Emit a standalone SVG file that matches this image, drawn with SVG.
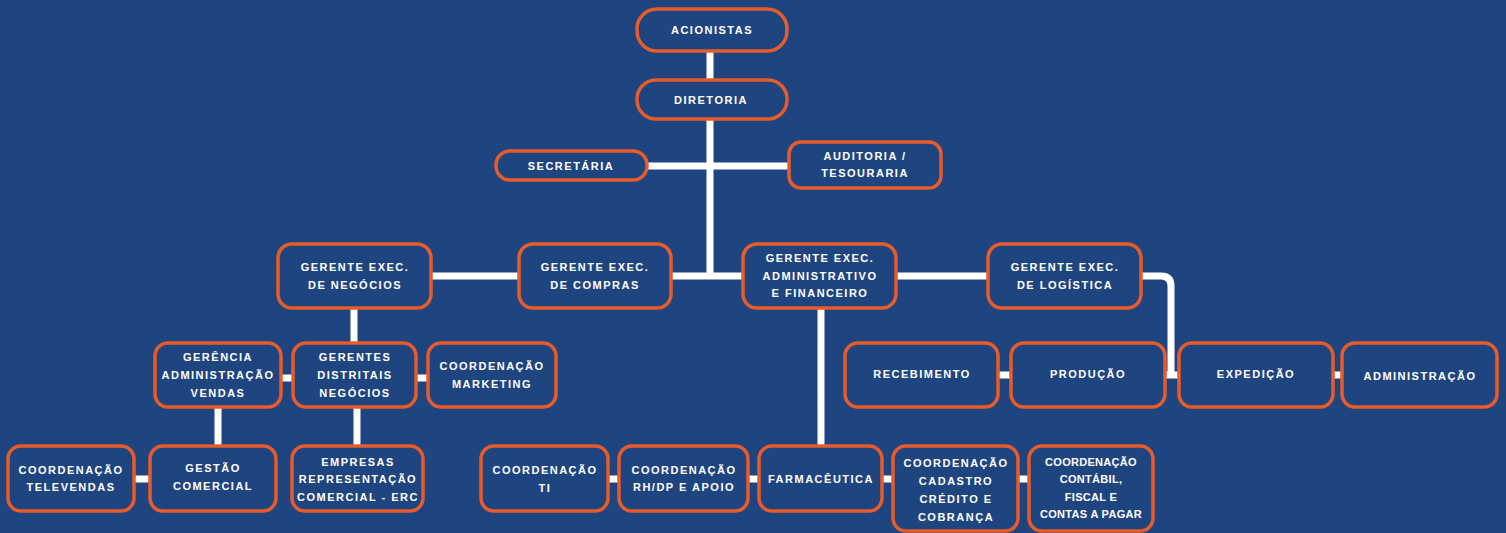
<svg xmlns="http://www.w3.org/2000/svg" width="1506" height="533" viewBox="0 0 1506 533">
<style>
.bg{fill:#1f4580}
.n rect{fill:#1f4580;stroke:#e85b2b;stroke-width:3.5}
.n text{fill:#ffffff;font-family:"Liberation Sans",Arial,sans-serif;font-weight:bold;font-size:11px;letter-spacing:1.5px;text-anchor:middle}
.n text.c{letter-spacing:0.3px}
.e{stroke:#ffffff;stroke-width:7;fill:none}
</style>
<rect class="bg" x="0" y="0" width="1506" height="533"/>
<g id="connectors">
<path class="e" d="M710 51V80"/>
<path class="e" d="M710 119V279"/>
<path class="e" d="M647 166H789"/>
<path class="e" d="M431 276H519"/>
<path class="e" d="M671 276H743"/>
<path class="e" d="M896 276H988"/>
<path class="e" d="M1141 276H1161Q1171 276 1171 286V378"/>
<path class="e" d="M1165 375H1179"/>
<path class="e" d="M998 375H1011"/>
<path class="e" d="M1333 375H1342"/>
<path class="e" d="M354 309V343"/>
<path class="e" d="M281 378H293"/>
<path class="e" d="M416 378H428"/>
<path class="e" d="M218 408V446"/>
<path class="e" d="M357 408V446"/>
<path class="e" d="M134 479H150"/>
<path class="e" d="M821 309V446"/>
<path class="e" d="M608 479H619"/>
<path class="e" d="M748 479H759"/>
<path class="e" d="M882 479H893"/>
<path class="e" d="M1018 479H1029"/>
</g>
<g id="acionistas" class="n"><rect x="637" y="9" width="150" height="42" rx="20"/><text x="712" y="34">ACIONISTAS</text></g>
<g id="diretoria" class="n"><rect x="637" y="80" width="150" height="39" rx="19"/><text x="711" y="103.5">DIRETORIA</text></g>
<g id="secretaria" class="n"><rect x="496" y="151" width="151" height="29" rx="14"/><text x="571" y="169.5">SECRETÁRIA</text></g>
<g id="auditoria" class="n"><rect x="789" y="142" width="152" height="46" rx="12"/><text x="865" y="160">AUDITORIA /</text><text x="865" y="177">TESOURARIA</text></g>
<g id="ge-negocios" class="n"><rect x="278" y="244" width="153" height="64" rx="14"/><text x="355" y="271">GERENTE EXEC.</text><text x="355" y="289">DE NEGÓCIOS</text></g>
<g id="ge-compras" class="n"><rect x="519" y="244" width="152" height="64" rx="14"/><text x="595" y="271">GERENTE EXEC.</text><text x="595" y="289">DE COMPRAS</text></g>
<g id="ge-adm-fin" class="n"><rect x="743" y="244" width="153" height="64" rx="14"/><text x="820" y="262">GERENTE EXEC.</text><text x="820" y="279.5">ADMINISTRATIVO</text><text x="820" y="297">E FINANCEIRO</text></g>
<g id="ge-logistica" class="n"><rect x="988" y="244" width="153" height="64" rx="14"/><text x="1065" y="271">GERENTE EXEC.</text><text x="1065" y="289">DE LOGÍSTICA</text></g>
<g id="gerencia-adm-vendas" class="n"><rect x="155" y="343" width="126" height="64" rx="13"/><text x="218" y="361">GERÊNCIA</text><text x="218" y="379">ADMINISTRAÇÃO</text><text x="218" y="397">VENDAS</text></g>
<g id="gerentes-distritais" class="n"><rect x="293" y="343" width="123" height="64" rx="13"/><text x="355" y="361">GERENTES</text><text x="355" y="379">DISTRITAIS</text><text x="355" y="397">NEGÓCIOS</text></g>
<g id="coord-marketing" class="n"><rect x="428" y="343" width="128" height="64" rx="13"/><text x="492" y="370">COORDENAÇÃO</text><text x="492" y="388">MARKETING</text></g>
<g id="recebimento" class="n"><rect x="845" y="343" width="153" height="64" rx="13"/><text x="922" y="378">RECEBIMENTO</text></g>
<g id="producao" class="n"><rect x="1011" y="343" width="154" height="64" rx="13"/><text x="1088" y="378">PRODUÇÃO</text></g>
<g id="expedicao" class="n"><rect x="1179" y="343" width="154" height="64" rx="13"/><text x="1256" y="378">EXPEDIÇÃO</text></g>
<g id="administracao" class="n"><rect x="1342" y="343" width="155" height="64" rx="13"/><text x="1420" y="380">ADMINISTRAÇÃO</text></g>
<g id="coord-televendas" class="n"><rect x="8" y="446" width="126" height="65" rx="13"/><text x="71" y="474">COORDENAÇÃO</text><text x="71" y="491">TELEVENDAS</text></g>
<g id="gestao-comercial" class="n"><rect x="150" y="446" width="126" height="65" rx="13"/><text x="213" y="472">GESTÃO</text><text x="213" y="490">COMERCIAL</text></g>
<g id="empresas-erc" class="n"><rect x="292" y="446" width="131" height="65" rx="13"/><text x="358" y="466">EMPRESAS</text><text x="358" y="483">REPRESENTAÇÃO</text><text x="358" y="501">COMERCIAL - ERC</text></g>
<g id="coord-ti" class="n"><rect x="481" y="446" width="127" height="65" rx="13"/><text x="545" y="474">COORDENAÇÃO</text><text x="545" y="492">TI</text></g>
<g id="coord-rh" class="n"><rect x="619" y="446" width="129" height="65" rx="13"/><text x="684" y="474">COORDENAÇÃO</text><text x="684" y="491">RH/DP E APOIO</text></g>
<g id="farmaceutica" class="n"><rect x="759" y="446" width="123" height="65" rx="13"/><text x="821" y="483">FARMACÊUTICA</text></g>
<g id="coord-cadastro" class="n"><rect x="893" y="446" width="125" height="85" rx="13"/><text x="956" y="467">COORDENAÇÃO</text><text x="956" y="485">CADASTRO</text><text x="956" y="503">CRÉDITO E</text><text x="956" y="521">COBRANÇA</text></g>
<g id="coord-contabil" class="n"><rect x="1029" y="446" width="124" height="85" rx="13"/><text class="c" x="1091" y="466">COORDENAÇÃO</text><text class="c" x="1091" y="483">CONTÁBIL,</text><text class="c" x="1091" y="501">FISCAL E</text><text class="c" x="1091" y="518">CONTAS A PAGAR</text></g>
</svg>
